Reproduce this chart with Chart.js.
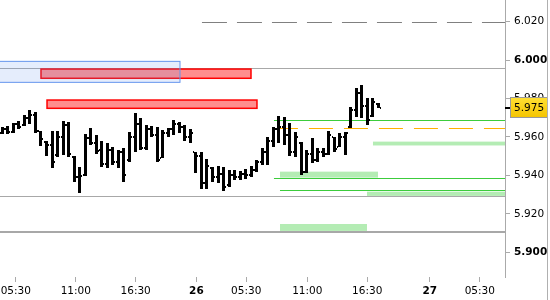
<!DOCTYPE html>
<html>
<head>
<meta charset="UTF-8" />
<title>Bars</title>
<script src="https://cdn.jsdelivr.net/npm/chart.js"></script>
<style>
body { margin: 0; background: #fff; }
.grafica { width: 550px; height: 300px; }
</style>
</head>
<body>
<div class="grafica"><canvas id="myChart"></canvas></div>
<script>
// x axis is bar number (30 min bars, trading hours only)
const xTickPos = [2.55, 13.39, 24.21, 35.18, 44.18, 55.22, 66.05, 77.34, 86.39];
const xTickLabels = ["05:30", "11:00", "16:30", "26", "05:30", "11:00", "16:30", "27", "05:30"];
const yTicks = [5.90, 5.92, 5.94, 5.96, 5.98, 6.00, 6.02];

const open = [5.9620, 5.9640, 5.9625, 5.9665, 5.9660, 5.9700, 5.9715, 5.9630, 5.9575, 5.9560,
  5.9505, 5.9600, 5.9660, 5.9495, 5.9390, 5.9400, 5.9595, 5.9570, 5.9530, 5.9460,
  5.9530, 5.9470, 5.9520, 5.9480, 5.9600, 5.9665, 5.9545, 5.9640, 5.9610, 5.9490,
  5.9620, 5.9640, 5.9670, 5.9650, 5.9600, 5.9520, 5.9500, 5.9360, 5.9440, 5.9390,
  5.9410, 5.9350, 5.9400, 5.9390, 5.9410, 5.9400, 5.9430, 5.9470, 5.9520, 5.9580,
  5.9640, 5.9650, 5.9610, 5.9520, 5.9570, 5.9420, 5.9510, 5.9480, 5.9520, 5.9510,
  5.9600, 5.9550, 5.9600, 5.9650, 5.9740, 5.9830, 5.9760, 5.9710, 5.9770];
const high = [5.9650, 5.9657, 5.9674, 5.9685, 5.9714, 5.9740, 5.9731, 5.9633, 5.9581, 5.9633,
  5.9633, 5.9685, 5.9678, 5.9501, 5.9446, 5.9614, 5.9645, 5.9610, 5.9581, 5.9567,
  5.9550, 5.9532, 5.9541, 5.9628, 5.9723, 5.9697, 5.9662, 5.9657, 5.9654, 5.9636,
  5.9645, 5.9688, 5.9679, 5.9662, 5.9640, 5.9524, 5.9524, 5.9484, 5.9446, 5.9449,
  5.9446, 5.9429, 5.9429, 5.9425, 5.9432, 5.9449, 5.9481, 5.9541, 5.9602, 5.9654,
  5.9709, 5.9705, 5.9671, 5.9628, 5.9576, 5.9532, 5.9593, 5.9541, 5.9541, 5.9633,
  5.9602, 5.9619, 5.9628, 5.9757, 5.9853, 5.9870, 5.9801, 5.9801, 5.9775];
const low = [5.9614, 5.9614, 5.9619, 5.9640, 5.9657, 5.9668, 5.9619, 5.9555, 5.9503, 5.9441,
  5.9495, 5.9506, 5.9495, 5.9368, 5.9311, 5.9399, 5.9558, 5.9512, 5.9446, 5.9441,
  5.9455, 5.9437, 5.9368, 5.9472, 5.9524, 5.9532, 5.9532, 5.9602, 5.9472, 5.9489,
  5.9602, 5.9610, 5.9619, 5.9581, 5.9570, 5.9415, 5.9328, 5.9328, 5.9368, 5.9360,
  5.9321, 5.9339, 5.9377, 5.9377, 5.9380, 5.9391, 5.9420, 5.9455, 5.9455, 5.9550,
  5.9567, 5.9558, 5.9501, 5.9498, 5.9403, 5.9415, 5.9467, 5.9472, 5.9498, 5.9506,
  5.9524, 5.9550, 5.9506, 5.9645, 5.9705, 5.9697, 5.9662, 5.9705, 5.9749];
const close = [5.9640, 5.9625, 5.9665, 5.9650, 5.9700, 5.9715, 5.9630, 5.9590, 5.9560, 5.9470,
  5.9600, 5.9660, 5.9510, 5.9390, 5.9395, 5.9595, 5.9570, 5.9525, 5.9460, 5.9530,
  5.9470, 5.9520, 5.9400, 5.9600, 5.9665, 5.9545, 5.9640, 5.9610, 5.9480, 5.9620,
  5.9640, 5.9670, 5.9650, 5.9600, 5.9620, 5.9500, 5.9360, 5.9450, 5.9390, 5.9410,
  5.9340, 5.9400, 5.9390, 5.9410, 5.9400, 5.9430, 5.9470, 5.9520, 5.9580, 5.9640,
  5.9650, 5.9610, 5.9520, 5.9600, 5.9420, 5.9510, 5.9480, 5.9520, 5.9510, 5.9610,
  5.9540, 5.9600, 5.9620, 5.9740, 5.9830, 5.9760, 5.9690, 5.9780, 5.9750];

// levels: whole width
const grayLevels = [5.9957, 5.9294];
const grayThickLevels = [5.9106];
// [from bar, price]  (to the right edge)
const dashedLevels = [[36.19, 6.020]];
const greenLevels = [[49.2, 5.9688], [49.2, 5.9385], [50.29, 5.9325]];
const orangeLevels = [[49.2, 5.9645]];
// zones: [from bar, to bar (null = edge), top, bottom]
const greenZones = [[67.09, null, 5.9576, 5.9556], [50.29, 68.0, 5.9420, 5.9389],
  [66.01, null, 5.9316, 5.9294], [50.29, 66.01, 5.9148, 5.9112]];
const redZones = [[7.10, 45.05, 5.9953, 5.9905], [8.19, 46.13, 5.9792, 5.9749]];
const blueZones = [[null, 32.22, 5.9993, 5.9884]];

const FONT = "'DejaVu Sans', Verdana, sans-serif";

const drawPlugin = {
  id: "levels",
  beforeDatasetsDraw(chart) {
    const { ctx, chartArea: a, scales: { x, y } } = chart;
    const px = (v, edge) => (v === null ? edge : x.getPixelForValue(v));
    const py = (v) => Math.round(y.getPixelForValue(v)) + 0.5;
    ctx.save();
    ctx.beginPath();
    ctx.rect(a.left, a.top, a.width, a.height);
    ctx.clip();

    ctx.fillStyle = "#b4ecb4";
    greenZones.forEach(([x0, x1, t, b]) => {
      const l = px(x0, a.left), r = px(x1, a.right);
      const yt = y.getPixelForValue(t), yb = y.getPixelForValue(b);
      ctx.fillRect(l, yt, r - l, yb - yt);
    });

    const hline = (x0, x1, yy, color, w, dash) => {
      ctx.beginPath();
      ctx.strokeStyle = color;
      ctx.lineWidth = w;
      ctx.setLineDash(dash || []);
      ctx.moveTo(x0, yy);
      ctx.lineTo(x1, yy);
      ctx.stroke();
    };
    grayLevels.forEach((v) => hline(a.left, a.right, py(v), "#a8a8a8", 1));
    grayThickLevels.forEach((v) => hline(a.left, a.right, Math.round(y.getPixelForValue(v)), "#a8a8a8", 2));
    dashedLevels.forEach(([f, v]) => hline(px(f), a.right, py(v), "#808080", 1, [25, 10]));
    greenLevels.forEach(([f, v]) => hline(px(f), a.right, py(v), "#3ccc3c", 1));
    orangeLevels.forEach(([f, v]) => hline(px(f), a.right, py(v), "#ffb000", 1, [24, 11]));
    ctx.setLineDash([]);

    redZones.forEach(([x0, x1, t, b]) => {
      const l = px(x0, a.left), r = px(x1, a.right);
      const yt = y.getPixelForValue(t), yb = y.getPixelForValue(b);
      ctx.fillStyle = "rgba(255, 30, 30, 0.5)";
      ctx.fillRect(l, yt, r - l, yb - yt);
      ctx.strokeStyle = "#ff0000";
      ctx.lineWidth = 1.5;
      ctx.strokeRect(l, yt, r - l, yb - yt);
    });
    blueZones.forEach(([x0, x1, t, b]) => {
      const l = px(x0, a.left - 2), r = px(x1, a.right);
      const yt = y.getPixelForValue(t), yb = y.getPixelForValue(b);
      ctx.fillStyle = "rgba(100, 149, 237, 0.17)";
      ctx.fillRect(l, yt, r - l, yb - yt);
      ctx.strokeStyle = "#6495ed";
      ctx.lineWidth = 1;
      ctx.strokeRect(l, yt, r - l, yb - yt);
    });
    ctx.restore();
  },
  beforeDatasetDraw(chart, args) {
    // draw the OHLC bars from the bar elements, snapped to whole pixels
    const { ctx, chartArea: a, scales: { y } } = chart;
    ctx.save();
    ctx.beginPath();
    ctx.rect(a.left, a.top, a.width, a.height);
    ctx.clip();
    ctx.fillStyle = "#000";
    args.meta.data.forEach((el, i) => {
      const xl = Math.round(el.x) - 1;
      const top = Math.round(el.y), bot = Math.round(el.base);
      ctx.fillRect(xl, top, 3, Math.max(bot - top, 1));
      ctx.fillRect(xl - 1, Math.round(y.getPixelForValue(open[i])) - 1, 1, 2);
      ctx.fillRect(xl + 3, Math.round(y.getPixelForValue(close[i])) - 1, 1, 2);
    });
    ctx.restore();
    return false;
  },
  afterDraw(chart) {
    const { ctx, chartArea: a, scales: { y } } = chart;
    const last = close[close.length - 1];
    const yp = Math.round(y.getPixelForValue(last));
    ctx.save();
    ctx.fillStyle = "#000";
    ctx.fillRect(a.right, yp - 1, 5, 2);
    const bx = a.right + 5.5, bw = 37, bh = 20, by = yp - 10.5;
    const g = ctx.createLinearGradient(0, by, 0, by + bh);
    g.addColorStop(0, "#ffe033");
    g.addColorStop(1, "#f5c400");
    ctx.fillStyle = g;
    ctx.fillRect(bx, by, bw, bh);
    ctx.strokeStyle = "#999";
    ctx.lineWidth = 1;
    ctx.strokeRect(bx, by, bw, bh);
    ctx.fillStyle = "#000";
    ctx.font = "10.5px " + FONT;
    ctx.textBaseline = "middle";
    ctx.fillText(last.toFixed(3), bx + 3.5, yp);
    // frame on the right
    ctx.strokeStyle = "#b0b0b0";
    ctx.beginPath();
    ctx.moveTo(chart.width - 2.5, 0);
    ctx.lineTo(chart.width - 2.5, chart.height);
    ctx.stroke();
    ctx.restore();
  }
};

function renderGrafica() {
  const bars = high.map((h, i) => ({ x: i, y: [low[i], h] }));
  const config = {
    type: "bar",
    data: {
      datasets: [{
        data: bars,
        backgroundColor: "#000",
        borderWidth: 0,
        barThickness: 3
      }]
    },
    options: {
      responsive: true,
      maintainAspectRatio: false,
      animation: false,
      events: [],
      layout: { padding: 0 },
      plugins: { legend: { display: false }, tooltip: { enabled: false } },
      scales: {
        x: {
          type: "linear",
          min: -0.307,
          max: 90.95,
          offset: false,
          afterBuildTicks: (axis) => { axis.ticks = xTickPos.map((v) => ({ value: v })); },
          afterFit: (axis) => { axis.height = 23; axis.paddingLeft = 0; axis.paddingRight = 0; },
          grid: { drawOnChartArea: false, offset: false, tickLength: 5, color: "#aaa" },
          border: { display: false },
          ticks: {
            autoSkip: false,
            maxRotation: 0,
            padding: 3,
            color: "#000",
            font: (c) => ({ family: FONT, size: 10.5, weight: /:/.test(xTickLabels[c.index] || ":") ? "normal" : "bold" }),
            callback: (v, i) => xTickLabels[i]
          }
        },
        y: {
          position: "right",
          min: 5.88727,
          max: 6.03117,
          afterBuildTicks: (axis) => { axis.ticks = yTicks.map((v) => ({ value: v })); },
          afterFit: (axis) => { axis.width = 45; axis.paddingTop = 0; axis.paddingBottom = 0; },
          grid: { drawOnChartArea: false, tickLength: 5, color: "#aaa" },
          border: { color: "#aaa" },
          ticks: {
            padding: 4,
            color: "#000",
            font: (c) => {
              const v = c.tick ? c.tick.value : 0;
              const round = Math.abs(v * 10 - Math.round(v * 10)) < 1e-6;
              return { family: FONT, size: 10.5, weight: round ? "bold" : "normal" };
            },
            callback: (v) => v.toFixed(3)
          }
        }
      }
    },
    plugins: [drawPlugin]
  };
  const myChart = document.getElementById("myChart");
  new Chart(myChart, config);
}
renderGrafica();
</script>
</body>
</html>
